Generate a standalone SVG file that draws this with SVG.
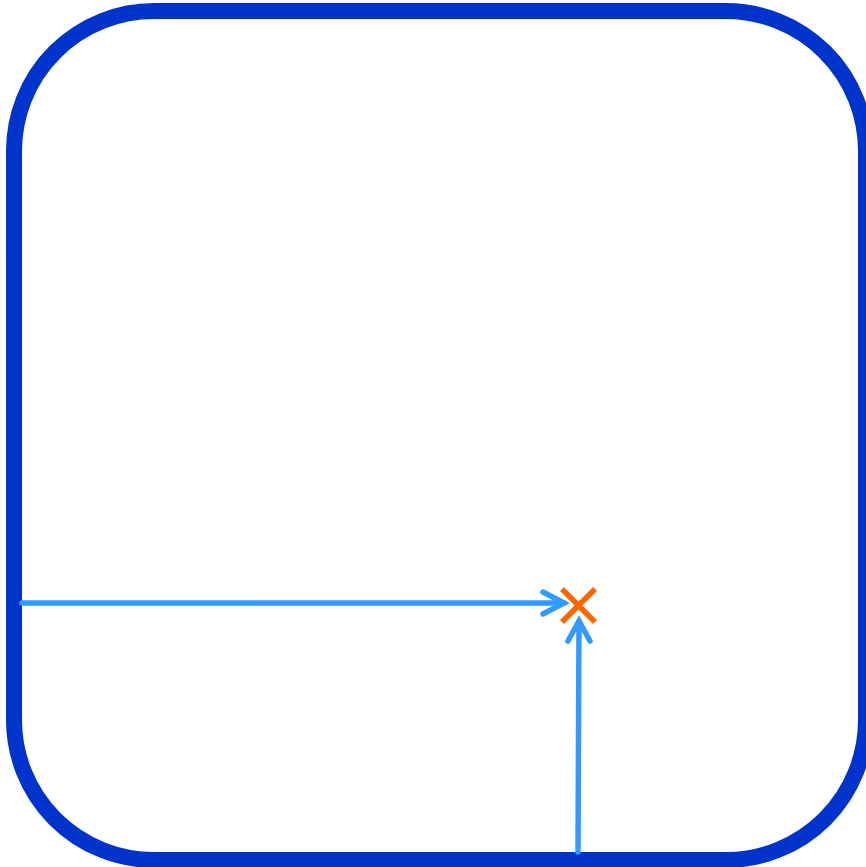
<svg xmlns="http://www.w3.org/2000/svg" width="866" height="867" viewBox="0 0 866 867">
<style>
.frame{fill:#ffffff;stroke:#0033cc;stroke-width:16}
.conn{fill:none;stroke:#3399ff;stroke-width:5.5;stroke-linecap:round}
.mark{fill:none;stroke:#ff6600;stroke-width:5.5}
</style>
<g id="frame">
<rect class="frame" x="14" y="11" width="852" height="849" rx="140" ry="140"/>
</g>
<g id="target">
<path class="mark" d="M562 589 L595 622 M595 589 L562 622"/>
</g>
<g id="connectors">
<path class="conn" d="M22 603 L564 603"/>
<path class="conn" d="M543 592 L564 603 L543 614"/>
<path class="conn" d="M578 852 L579 622"/>
<path class="conn" d="M568 641 L579 621 L590 641"/>
</g>
</svg>
